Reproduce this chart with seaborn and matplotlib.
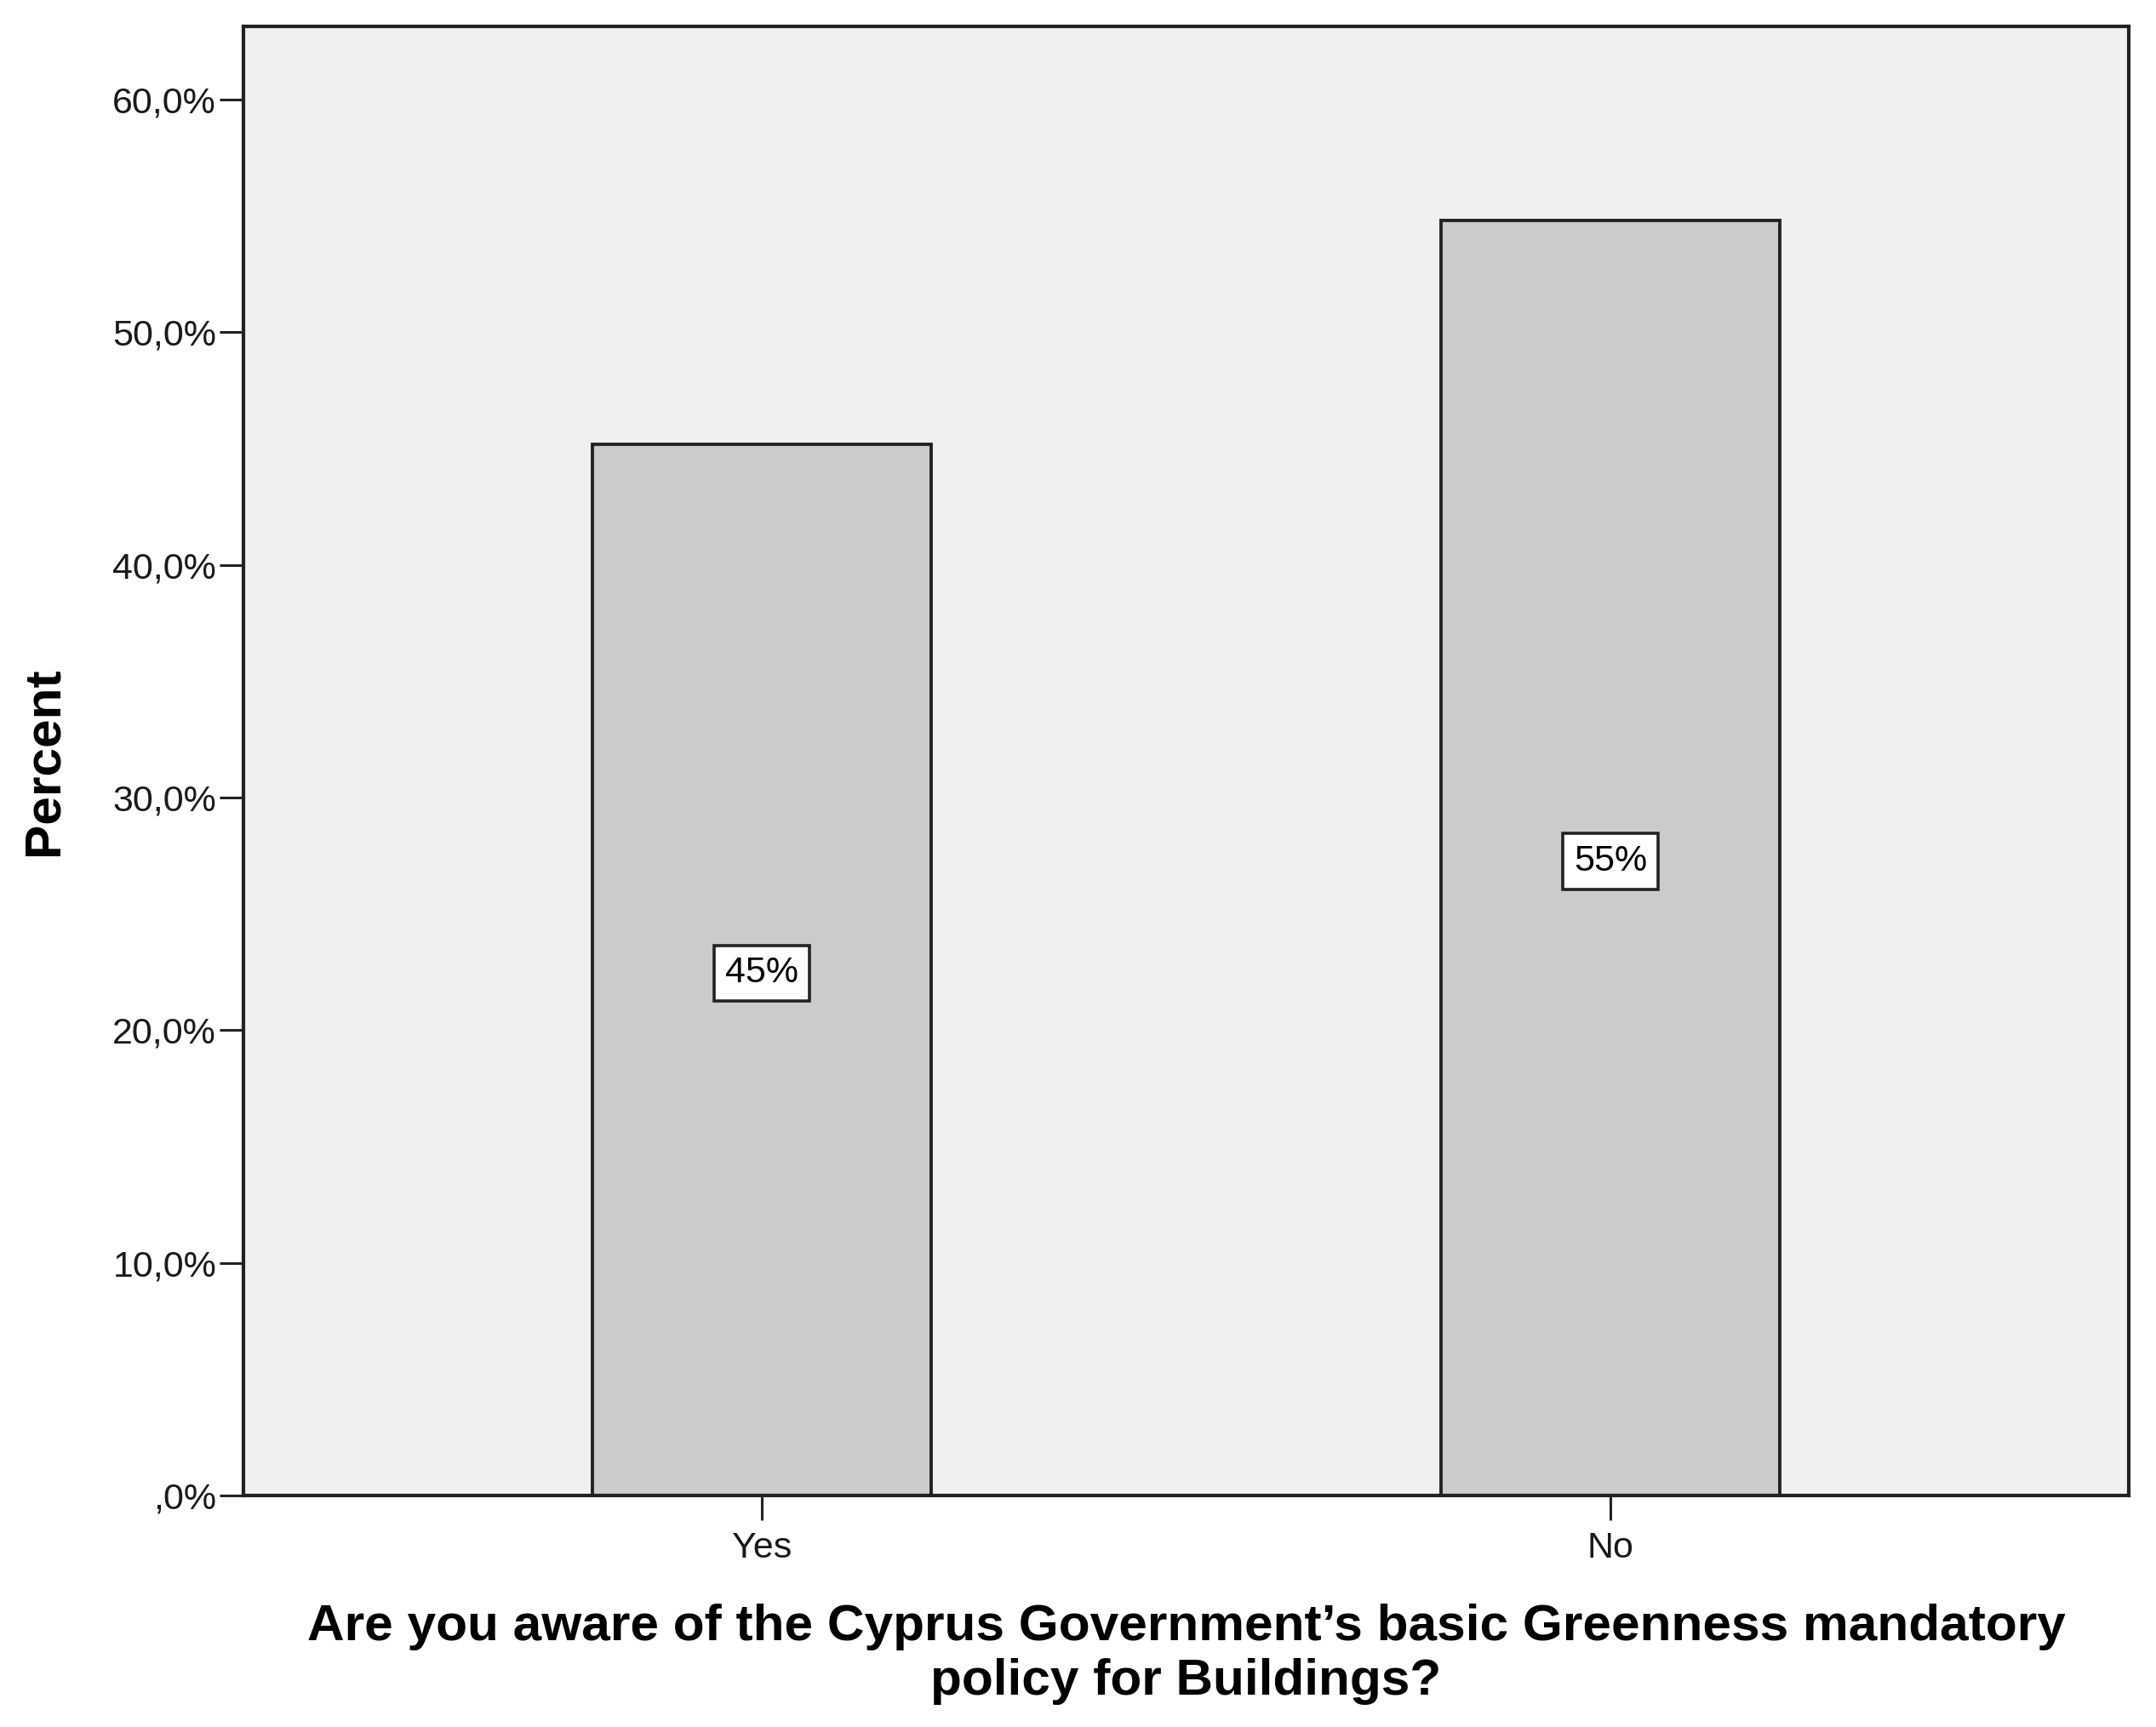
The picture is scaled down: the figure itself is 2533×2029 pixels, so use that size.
import matplotlib
matplotlib.use("Agg")
import matplotlib.pyplot as plt
import pandas as pd
import seaborn as sns

# values
answers = ['Yes', 'No']
percent = [45.2, 54.8]
bar_labels = ['45%', '55%']
yticks = [0, 10, 20, 30, 40, 50, 60]
ytick_labels = [',0%', '10,0%', '20,0%', '30,0%', '40,0%', '50,0%', '60,0%']
xlab = 'Are you aware of the Cyprus Government\u2019s basic Greenness mandatory\npolicy for Buildings?'
ylab = 'Percent'

df = pd.DataFrame({'answer': answers, 'percent': percent})

sns.set_style('ticks')
plt.rcParams['font.family'] = ['Liberation Sans', 'DejaVu Sans']

fig = plt.figure(figsize=(25.33, 20.29), dpi=100)
ax = fig.add_axes([0.1129, 0.134, 0.8745, 0.8507])
ax.set_facecolor('#f0f0f0')

sns.barplot(data=df, x='answer', y='percent', color='#cbcbcb', saturation=1,
            edgecolor='#222222', linewidth=2.8, width=0.4, errorbar=None, ax=ax)

# boxed value labels in the middle of each bar
for i, (v, lab) in enumerate(zip(percent, bar_labels)):
    ax.text(i, v / 2 - 0.15, lab, ha='center', va='center', fontsize=31, color='black',
            bbox=dict(boxstyle='square,pad=0.3', facecolor='white',
                      edgecolor='#222222', linewidth=2.6))

ax.set_xlim(-0.611, 1.611)
ax.set_ylim(0, 63.15)
ax.set_yticks(yticks)
ax.set_yticklabels(ytick_labels)

for s in ax.spines.values():
    s.set_visible(True)
    s.set_color('#222222')
    s.set_linewidth(3)

ax.tick_params(axis='y', length=20, width=2.2, pad=3, labelsize=31, colors='#222222',
               labelcolor='#1a1a1a')
ax.tick_params(axis='x', length=21, width=2.2, pad=9, labelsize=31, colors='#222222',
               labelcolor='#1a1a1a')

ax.set_xlabel(xlab, fontsize=43.5, fontweight='bold', linespacing=1.22, va='top',
              color='black')
ax.set_ylabel(ylab, fontsize=43.5, fontweight='bold', color='black')
ax.xaxis.set_label_coords(0.5, -0.0735)
ax.yaxis.set_label_coords(-0.093, 0.5)

fig.savefig('out.png', dpi=100, facecolor='white')
